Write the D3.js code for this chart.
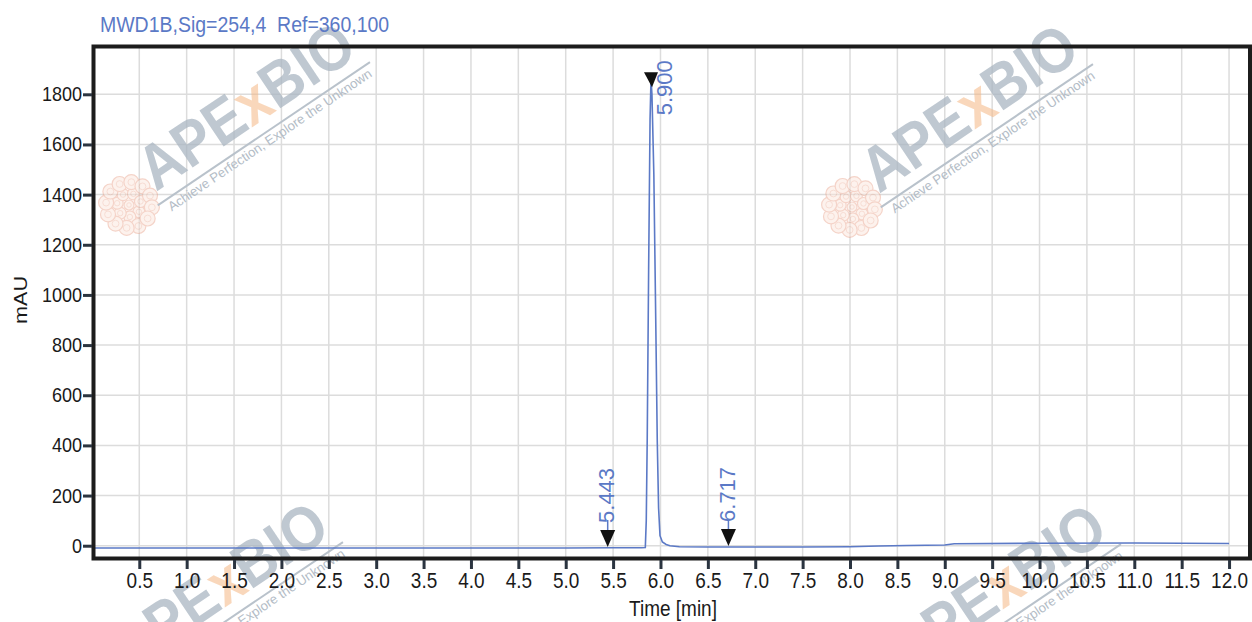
<!DOCTYPE html>
<html>
<head>
<meta charset="utf-8">
<script src="https://d3js.org/d3.v7.min.js"></script>
<style>
  body { margin: 0; background: #fff; }
  svg text { font-family: "Liberation Sans", Arial, sans-serif; }
</style>
</head>
<body>
<script>
// chromatogram trace (time in min, signal in mAU)
var timeMin = [0, 1, 2, 3, 4, 5, 5.5, 5.8, 5.84, 5.85, 5.86, 5.875, 5.89, 5.9, 5.91, 5.93, 5.95, 5.966, 5.98, 5.995,
               6.02, 6.06, 6.1, 6.2, 6.5, 7.0, 7.5, 8.0, 8.3, 8.6, 9.0, 9.1, 10.0, 11.0, 12.0];
var signalMAU = [-9, -9, -9, -9, -9, -9, -8, -8, -7, 100, 420, 1100, 1700, 1860, 1800, 1480, 900, 420, 150, 40,
                 15, 5, 0, -4, -5, -5, -5, -4, -1, 1, 3, 8, 10, 11, 9];

var peakTimes = [5.443, 5.900, 6.717];
var peakLabels = ["5.443", "5.900", "6.717"];
var peakLevels = [-9, 1860, -5];

var xTicks = [0.5, 1.0, 1.5, 2.0, 2.5, 3.0, 3.5, 4.0, 4.5, 5.0, 5.5, 6.0, 6.5, 7.0, 7.5, 8.0, 8.5, 9.0, 9.5, 10.0, 10.5, 11.0, 11.5, 12.0];
var yTicks = [0, 200, 400, 600, 800, 1000, 1200, 1400, 1600, 1800];

var titleText = "MWD1B,Sig=254,4\u00a0\u00a0Ref=360,100";

var width = 1252, height = 622;
var blue = "#5b79c6";

var x = d3.scaleLinear().domain([0, 12.221]).range([91.9, 1250]);
var y = d3.scaleLinear().domain([-51, 1990.6]).range([558.5, 46.5]);

var svg = d3.select("body").append("svg")
  .attr("width", width)
  .attr("height", height);

// grid
svg.append("g").selectAll("line.v")
  .data(xTicks).enter().append("line")
  .attr("x1", function(d) { return x(d); })
  .attr("x2", function(d) { return x(d); })
  .attr("y1", y.range()[1]).attr("y2", y.range()[0])
  .attr("stroke", "#dcdcdc").attr("stroke-width", 1.5);
svg.append("g").selectAll("line.h")
  .data(yTicks).enter().append("line")
  .attr("y1", function(d) { return y(d); })
  .attr("y2", function(d) { return y(d); })
  .attr("x1", x.range()[0]).attr("x2", x.range()[1])
  .attr("stroke", "#dcdcdc").attr("stroke-width", 1.5);

// watermarks
var wmOrigins = [[156, 192], [879, 194], [129, 672], [907, 674]];
wmOrigins.forEach(function(o) {
  var fl = svg.append("g")
    .attr("transform", "translate(" + (o[0] - 27) + "," + (o[1] + 13) + ")")
    .attr("opacity", 0.45);
  var rings = [[0, 1, 5], [12, 7, 6], [23, 12, 7.5]];
  rings.forEach(function(r) {
    for (var i = 0; i < r[1]; i++) {
      var a = i * 2 * Math.PI / r[1] + r[0] * 0.05;
      fl.append("circle")
        .attr("cx", r[0] * Math.cos(a)).attr("cy", r[0] * Math.sin(a))
        .attr("r", r[2])
        .attr("fill", "#fbe3d8").attr("stroke", "#e9a088").attr("stroke-width", 1.2);
      fl.append("circle")
        .attr("cx", r[0] * Math.cos(a)).attr("cy", r[0] * Math.sin(a))
        .attr("r", r[2] * 0.45)
        .attr("fill", "none").attr("stroke", "#eeb4a0").attr("stroke-width", 1);
    }
  });

  var g = svg.append("g")
    .attr("transform", "translate(" + o[0] + "," + o[1] + ") rotate(-34)");
  var t = g.append("text")
    .attr("x", 0).attr("y", 0)
    .attr("transform", "scale(1,1.12)")
    .attr("font-size", 56).attr("font-weight", "bold");
  t.append("tspan").text("APE").attr("fill", "#aab6c2").attr("fill-opacity", 0.75);
  t.append("tspan").text("x").attr("fill", "#f4b683").attr("fill-opacity", 0.55);
  t.append("tspan").text("BIO").attr("fill", "#aab6c2").attr("fill-opacity", 0.75);
  g.append("line")
    .attr("x1", -6).attr("x2", 250).attr("y1", 12).attr("y2", 12)
    .attr("stroke", "#b9c2cb").attr("stroke-width", 2);
  g.append("text")
    .attr("x", 2).attr("y", 25)
    .attr("font-size", 13.2)
    .attr("fill", "#b3bcc6")
    .text("Achieve Perfection, Explore the Unknown");
});

// trace
var line = d3.line()
  .x(function(d) { return x(d[0]); })
  .y(function(d) { return y(d[1]); });
svg.append("path")
  .datum(timeMin.map(function(t, i) { return [t, signalMAU[i]]; }))
  .attr("d", line)
  .attr("fill", "none")
  .attr("stroke", blue)
  .attr("stroke-width", 1.6);

// peak markers
peakTimes.forEach(function(pt, i) {
  var px = x(pt), py = y(peakLevels[i]);
  var m = svg.append("g");
  if (i === 1) {
    m.append("path")
      .attr("d", "M" + (px - 7) + "," + (py - 7) + "L" + (px + 7) + "," + (py - 7) + "L" + (px + 1) + "," + (py + 8) + "Z")
      .attr("fill", "#111");
    m.append("text")
      .attr("transform", "translate(" + (px + 13) + "," + (py + 36) + ") rotate(-90)")
      .attr("dy", "0.35em")
      .attr("font-size", 22).attr("fill", blue)
      .text(peakLabels[i]);
  } else {
    m.append("line")
      .attr("x1", px).attr("x2", px)
      .attr("y1", py - 28).attr("y2", py - 16)
      .attr("stroke", blue).attr("stroke-width", 1.5);
    m.append("path")
      .attr("d", "M" + (px - 7.5) + "," + (py - 18) + "L" + (px + 7.5) + "," + (py - 18) + "L" + px + "," + (py - 1) + "Z")
      .attr("fill", "#111");
    m.append("text")
      .attr("transform", "translate(" + (px - 1) + "," + (py - 25) + ") rotate(-90)")
      .attr("dy", "0.35em")
      .attr("font-size", 22).attr("fill", blue)
      .text(peakLabels[i]);
  }
});

// frame
svg.append("rect")
  .attr("x", 93.5).attr("y", 46.5)
  .attr("width", 1250 - 93.5).attr("height", 558.5 - 46.5)
  .attr("fill", "none").attr("stroke", "#1c1c1c").attr("stroke-width", 4);

// axes
var xAxis = svg.append("g")
  .attr("transform", "translate(0,560)")
  .call(d3.axisBottom(x).tickValues(xTicks).tickFormat(d3.format(".1f")).tickSize(9).tickSizeOuter(0));
xAxis.select(".domain").remove();
xAxis.selectAll(".tick line").attr("stroke", "#2b3440").attr("stroke-width", 3);
xAxis.selectAll(".tick text")
  .attr("y", 0).attr("dy", null)
  .attr("transform", "translate(0,28) scale(1,1.2)")
  .attr("font-size", 19).attr("fill", "#1a1a1a")
  .attr("font-family", "Liberation Sans, Arial, sans-serif");

var yAxis = svg.append("g")
  .attr("transform", "translate(92,0)")
  .call(d3.axisLeft(y).tickValues(yTicks).tickFormat(d3.format("d")).tickSize(9).tickSizeOuter(0));
yAxis.select(".domain").remove();
yAxis.selectAll(".tick line").attr("stroke", "#2b3440").attr("stroke-width", 3);
yAxis.selectAll(".tick text")
  .attr("x", 0).attr("dy", null)
  .attr("transform", "translate(-10,6.5) scale(1,1.16)")
  .attr("font-size", 18).attr("fill", "#1a1a1a")
  .attr("font-family", "Liberation Sans, Arial, sans-serif");

// title and axis titles
svg.append("text")
  .attr("transform", "translate(100,32) scale(1,1.12)")
  .attr("font-size", 19.5).attr("fill", blue)
  .text(titleText);

svg.append("text")
  .attr("transform", "translate(673,616) scale(1,1.15)")
  .attr("text-anchor", "middle")
  .attr("font-size", 19).attr("fill", "#1a1a1a")
  .text("Time [min]");

svg.append("text")
  .attr("transform", "translate(27,300) rotate(-90) scale(1.2,1)")
  .attr("text-anchor", "middle")
  .attr("font-size", 18).attr("fill", "#1a1a1a")
  .text("mAU");
</script>
</body>
</html>
